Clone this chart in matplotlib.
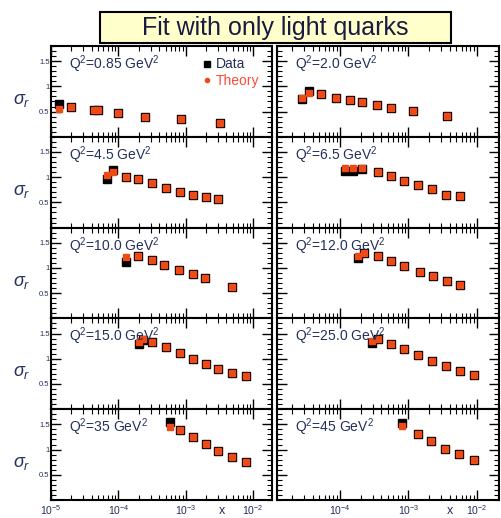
import matplotlib.pyplot as plt
from matplotlib.patches import Rectangle
from matplotlib.lines import Line2D
from matplotlib.ticker import LogLocator, FixedLocator, FixedFormatter, MultipleLocator, NullFormatter

plt.rcParams['font.family'] = ['Liberation Sans', 'DejaVu Sans']
plt.rcParams['mathtext.fontset'] = 'custom'
plt.rcParams['mathtext.rm'] = 'Liberation Sans'
plt.rcParams['mathtext.it'] = 'Liberation Sans:italic'
plt.rcParams['mathtext.bf'] = 'Liberation Sans:bold'

# values, per Q^2 bin
labels = ['0.85', '2.0', '4.5', '6.5', '10.0', '12.0', '15.0', '25.0', '35', '45']

x_085 = [1.32e-5, 2.0e-5, 4.3e-5, 5.0e-5, 1.0e-4, 2.5e-4, 8.5e-4, 3.2e-3]
data_085 = [0.66, 0.60, 0.54, 0.54, 0.48, 0.40, 0.36, 0.28]
theory_085 = [0.56, 0.60, 0.54, 0.53, 0.48, 0.40, 0.36, 0.28]

x_20 = [2.8e-5, 3.5e-5, 5.2e-5, 8.7e-5, 1.4e-4, 2.1e-4, 3.5e-4, 5.6e-4, 1.15e-3, 3.7e-3]
data_20 = [0.74, 0.90, 0.84, 0.77, 0.73, 0.69, 0.63, 0.57, 0.51, 0.42]
theory_20 = [0.77, 0.86, 0.84, 0.77, 0.73, 0.69, 0.63, 0.57, 0.51, 0.42]

x_45 = [6.8e-5, 8.3e-5, 1.3e-4, 1.95e-4, 3.2e-4, 5.0e-4, 8.1e-4, 1.26e-3, 2.0e-3, 3.0e-3]
data_45 = [0.96, 1.14, 1.01, 0.96, 0.88, 0.78, 0.71, 0.65, 0.61, 0.56]
theory_45 = [1.04, 1.10, 1.01, 0.96, 0.88, 0.78, 0.71, 0.65, 0.61, 0.56]

x_65 = [1.17e-4, 1.55e-4, 2.1e-4, 3.55e-4, 5.5e-4, 8.7e-4, 1.38e-3, 2.24e-3, 3.55e-3, 5.6e-3]
data_65 = [1.12, 1.12, 1.17, 1.11, 1.03, 0.93, 0.84, 0.76, 0.65, 0.63]
theory_65 = [1.18, 1.18, 1.18, 1.11, 1.03, 0.93, 0.84, 0.76, 0.65, 0.63]

x_100 = [1.3e-4, 1.95e-4, 3.2e-4, 4.8e-4, 7.8e-4, 1.26e-3, 1.95e-3, 4.9e-3]
data_100 = [1.12, 1.24, 1.16, 1.06, 0.96, 0.88, 0.80, 0.62]
err_100 = [0.08, 0.02, 0.02, 0.02, 0.02, 0.02, 0.02, 0.02]
theory_100 = [1.22, 1.24, 1.16, 1.06, 0.96, 0.88, 0.80, 0.62]

x_120 = [1.8e-4, 2.24e-4, 3.55e-4, 5.5e-4, 8.7e-4, 1.45e-3, 2.3e-3, 3.7e-3, 5.6e-3]
data_120 = [1.20, 1.30, 1.24, 1.14, 1.04, 0.92, 0.84, 0.74, 0.66]
theory_120 = [1.24, 1.30, 1.24, 1.14, 1.04, 0.92, 0.84, 0.74, 0.66]

x_150 = [2.0e-4, 2.3e-4, 3.2e-4, 5.0e-4, 8.1e-4, 1.26e-3, 2.0e-3, 3.0e-3, 4.9e-3, 7.9e-3]
data_150 = [1.30, 1.38, 1.34, 1.24, 1.12, 1.00, 0.90, 0.80, 0.72, 0.66]
theory_150 = [1.33, 1.40, 1.34, 1.24, 1.12, 1.00, 0.90, 0.80, 0.72, 0.66]

x_250 = [2.9e-4, 3.55e-4, 5.6e-4, 8.7e-4, 1.38e-3, 2.24e-3, 3.55e-3, 5.6e-3, 9.1e-3]
data_250 = [1.32, 1.40, 1.30, 1.20, 1.08, 0.96, 0.86, 0.76, 0.68]
theory_250 = [1.36, 1.40, 1.30, 1.20, 1.08, 0.96, 0.86, 0.76, 0.68]

x_350 = [5.8e-4, 8.1e-4, 1.26e-3, 2.0e-3, 3.0e-3, 4.9e-3, 7.9e-3]
data_350 = [1.54, 1.38, 1.24, 1.12, 0.98, 0.86, 0.76]
theory_350 = [1.44, 1.38, 1.24, 1.12, 0.98, 0.86, 0.76]

x_450 = [8.1e-4, 1.38e-3, 2.14e-3, 3.47e-3, 5.5e-3, 9.1e-3]
data_450 = [1.52, 1.30, 1.17, 1.02, 0.91, 0.79]
theory_450 = [1.47, 1.31, 1.17, 1.02, 0.91, 0.79]

panels = [
    (x_085, data_085, None, theory_085),
    (x_20, data_20, None, theory_20),
    (x_45, data_45, None, theory_45),
    (x_65, data_65, None, theory_65),
    (x_100, data_100, err_100, theory_100),
    (x_120, data_120, None, theory_120),
    (x_150, data_150, None, theory_150),
    (x_250, data_250, None, theory_250),
    (x_350, data_350, None, theory_350),
    (x_450, data_450, None, theory_450),
]

W, H = 501, 518
orange = '#ee4a15'
ink = '#24305c'

fig = plt.figure(figsize=(W / 100, H / 100), dpi=100)

# title box
fig.patches.append(Rectangle((100 / W, 1 - 43 / H), 351 / W, 31 / H, transform=fig.transFigure,
                             facecolor='#ffffcc', edgecolor='black', lw=1.5))
fig.text(275.5 / W, 1 - 28 / H, 'Fit with only light quarks', ha='center', va='center',
         fontsize=18, color='#1a1a40')

top, bottom = 46, 500
row_h = (bottom - top) / 5
cols = [(51, 221, (1e-5, 1.9e-2)), (277, 222, (1.2e-5, 2.1e-2))]

for i, (xs, data, err, theory) in enumerate(panels):
    row, col = divmod(i, 2)
    left, width, xlim = cols[col]
    y0 = top + row_h * (row + 1)
    ax = fig.add_axes([left / W, 1 - y0 / H, width / W, row_h / H])

    ax.errorbar(xs, data, yerr=err, fmt='s', color='black', ms=5.5, elinewidth=1.2,
                capsize=0, zorder=2)
    ax.plot(xs, theory, 's', color=orange, mec=orange, ms=4.9, zorder=3)

    ax.set_xscale('log')
    ax.set_xlim(*xlim)
    ax.set_ylim(0, 1.8)

    ax.xaxis.set_major_locator(LogLocator(base=10, numticks=10))
    ax.xaxis.set_minor_locator(LogLocator(base=10, subs=range(2, 10), numticks=20))
    ax.xaxis.set_minor_formatter(NullFormatter())
    ax.yaxis.set_major_locator(FixedLocator([0.5, 1, 1.5]))
    ax.yaxis.set_major_formatter(FixedFormatter(['0.5', '1', '1.5']))
    ax.yaxis.set_minor_locator(MultipleLocator(0.1))

    ax.tick_params(which='both', direction='in', top=True, right=True, colors='black')
    ax.tick_params(which='major', length=7, width=1)
    ax.tick_params(which='minor', length=3.5, width=0.8)
    ax.tick_params(axis='y', labelsize=5.5, pad=1, labelcolor=ink)
    ax.tick_params(axis='x', labelsize=7.5, pad=2, labelcolor=ink)
    ax.tick_params(labelleft=(col == 0), labelbottom=(row == 4))
    for sp in ax.spines.values():
        sp.set_linewidth(1.5)

    ax.text(0.08, 0.80, 'Q$^2$=' + labels[i] + ' GeV$^2$', transform=ax.transAxes,
            fontsize=10, color=ink, va='center', ha='left')
    if col == 0:
        ax.text(-0.17, 0.40, r'$\sigma_r$', transform=ax.transAxes, fontsize=13,
                color=ink, va='center', ha='left')

    if i == 0:
        handles = [Line2D([], [], ls='none', marker='s', color='black', ms=4),
                   Line2D([], [], ls='none', marker='o', color=orange, ms=3)]
        leg = ax.legend(handles, ['Data', 'Theory'], loc='upper right', bbox_to_anchor=(0.96, 0.92),
                        frameon=False, fontsize=10, handlelength=0.6, handletextpad=0.3,
                        labelspacing=0.15, borderpad=0, borderaxespad=0.3)
        leg.get_texts()[0].set_color(ink)
        leg.get_texts()[1].set_color('#ff4a3a')

fig.text(222 / W, 1 - 511 / H, 'x', fontsize=9, color=ink, ha='center', va='center')
fig.text(450 / W, 1 - 511 / H, 'x', fontsize=9, color=ink, ha='center', va='center')

fig.savefig('out.png', dpi=100)
